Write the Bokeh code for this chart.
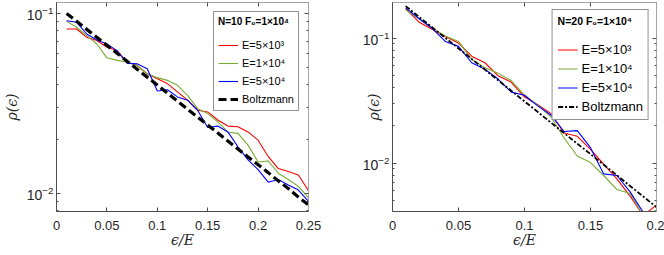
from bokeh.plotting import figure
from bokeh.layouts import row
from bokeh.models import (Range1d, FixedTicker, LogAxis, LinearAxis, Legend,
                          LegendItem, NumeralTickFormatter, CustomJSTickFormatter)
from bokeh.embed import file_html
from bokeh.resources import INLINE

# ---------------- data ----------------
eps_left = [0.01, 0.02, 0.03, 0.04, 0.05, 0.06, 0.07, 0.08, 0.09, 0.10,
            0.11, 0.12, 0.13, 0.14, 0.15, 0.16, 0.17, 0.18, 0.19, 0.20,
            0.21, 0.22, 0.23, 0.24, 0.25]
red_left = [0.0819, 0.0819, 0.0736, 0.0706, 0.0648, 0.0621, 0.0536, 0.0513, 0.0461, 0.0433,
            0.0407, 0.0366, 0.0329, 0.0289, 0.0283, 0.0255, 0.0236, 0.0234, 0.0219, 0.0197,
            0.0160, 0.0137, 0.0132, 0.0126, 0.0103]
green_left = [0.0903, 0.0837, 0.0752, 0.0676, 0.0566, 0.0548, 0.0536, 0.0513, 0.0461, 0.0439,
              0.0424, 0.0398, 0.0350, 0.0295, 0.0277, 0.0249, 0.0219, 0.0215, 0.0185, 0.0149,
              0.0151, 0.0129, 0.0119, 0.0109, 0.0094]
blue_left = [0.0910, 0.0892, 0.0768, 0.0712, 0.0676, 0.0621, 0.0528, 0.0524, 0.0492, 0.0370,
             0.0376, 0.0343, 0.0329, 0.0289, 0.0232, 0.0236, 0.0219, 0.0181, 0.0153, 0.0135,
             0.0115, 0.0119, 0.0111, 0.0104, 0.0090]
boltz_left = [0.1000, 0.0903, 0.0815, 0.0736, 0.0665, 0.0600, 0.0542, 0.0489, 0.0442, 0.0399,
              0.0360, 0.0325, 0.0293, 0.0265, 0.0239, 0.0216, 0.0195, 0.0176, 0.0159, 0.0144,
              0.0130, 0.0117, 0.0106, 0.0095, 0.0086]

eps_right = [0.01, 0.02, 0.03, 0.04, 0.05, 0.06, 0.07, 0.08, 0.09, 0.10,
             0.11, 0.12, 0.13, 0.14, 0.15, 0.16, 0.17, 0.18, 0.19, 0.20]
red_right = [0.172, 0.135, 0.118, 0.103, 0.0914, 0.0718, 0.0636, 0.0500, 0.0443, 0.0338,
             0.0294, 0.0250, 0.0174, 0.0164, 0.0129, 0.0098, 0.00749, 0.00544, 0.0038, 0.00463]
green_right = [0.169, 0.1437, 0.120, 0.1043, 0.0942, 0.0676, 0.0581, 0.0525, 0.0457, 0.0349,
               0.0291, 0.0235, 0.0159, 0.0114, 0.0101, 0.00796, 0.00614, 0.00571, 0.0038, 0.0042]
blue_right = [0.175, 0.1437, 0.120, 0.0942, 0.0860, 0.0636, 0.0564, 0.0471, 0.0370, 0.0349,
              0.0287, 0.0243, 0.0179, 0.0182, 0.0133, 0.0082, 0.00796, 0.00589, 0.00403, 0.0036]
boltz_right = [0.1805, 0.1485, 0.1222, 0.1006, 0.0827, 0.0681, 0.0560, 0.0461, 0.0379, 0.0312,
               0.0257, 0.0211, 0.0174, 0.0143, 0.0118, 0.0097, 0.0080, 0.00656, 0.00540, 0.00444]

x_ticks_left = [0, 0.05, 0.10, 0.15, 0.20, 0.25]
x_ticks_right = [0, 0.05, 0.10, 0.15, 0.20]
y_major = [0.01, 0.1]
y_minor = [0.002, 0.003, 0.004, 0.005, 0.006, 0.007, 0.008, 0.009,
           0.02, 0.03, 0.04, 0.05, 0.06, 0.07, 0.08, 0.09, 0.2, 0.3]

legend_labels = ["E=5×10³", "E=1×10⁴", "E=5×10⁴", "Boltzmann"]
titles = ["N=10 F₀=1×10⁴", "N=20 F₀=1×10⁴"]

RED, GREEN, BLUE = "#FF0000", "#77AC30", "#0000FF"
AX = "#4d4d4d"
AX2 = "#a6a6a6"
SANS = "Liberation Sans"
SERIF = "DejaVu Serif"


def make(eps, series, boltz, xr, yr, xticks, title, mb_left, mb_right, ylab_standoff,
         boltz_width, boltz_dash, leg):
    p = figure(width=332, height=255, y_axis_type="log",
               x_range=Range1d(*xr), y_range=Range1d(*yr),
               output_backend="svg", toolbar_location=None,
               min_border_left=mb_left, min_border_right=mb_right,
               min_border_top=2, min_border_bottom=44)
    p.outline_line_color = None
    p.grid.visible = False

    xa = p.xaxis[0]
    xa.ticker = FixedTicker(ticks=xticks)
    xa.formatter = NumeralTickFormatter(format="0.[00]")
    ya = p.yaxis[0]
    ya.ticker = FixedTicker(ticks=y_major, minor_ticks=y_minor)
    for ax in (xa, ya):
        ax.axis_line_color = AX
        ax.major_tick_line_color = AX
        ax.minor_tick_line_color = AX
        ax.major_tick_in = 4
        ax.major_tick_out = 0
        ax.minor_tick_in = 2
        ax.minor_tick_out = 0
        ax.major_label_text_font = SANS
        ax.major_label_text_color = "#262626"
        ax.axis_label_text_font = SERIF
        ax.axis_label_text_font_style = "italic"
        ax.axis_label_text_font_size = "14px"
        ax.axis_label_text_color = "#262626"
    xa.major_label_text_font_size = "13px"
    ya.major_label_text_font_size = "14px"
    xa.minor_tick_line_color = None
    xa.major_label_standoff = 9
    xa.axis_label_standoff = -1
    ya.major_label_standoff = 3
    ya.axis_label_standoff = ylab_standoff
    xa.axis_label = "ϵ/E"
    ya.axis_label = "ρ(ϵ)"

    top = LinearAxis(ticker=FixedTicker(ticks=xticks),
                     formatter=CustomJSTickFormatter(code="return ''"))
    right = LogAxis(ticker=FixedTicker(ticks=y_major, minor_ticks=y_minor),
                    formatter=CustomJSTickFormatter(code="return ''"))
    for ax in (top, right):
        ax.axis_line_color = AX2
        ax.major_tick_line_color = AX
        ax.minor_tick_line_color = AX
        ax.major_tick_in = 4
        ax.major_tick_out = 0
        ax.minor_tick_in = 2
        ax.minor_tick_out = 0
        ax.major_label_standoff = 0
    top.minor_tick_line_color = None
    p.add_layout(top, "above")
    p.add_layout(right, "right")

    rs = []
    for ys, c in zip(series, (RED, GREEN, BLUE)):
        rs.append(p.line(eps, ys, line_color=c, line_width=1.1))
    rs.append(p.line(eps, boltz, line_color="black", line_width=boltz_width,
                     line_dash=boltz_dash))

    lg = Legend(items=[LegendItem(label=l, renderers=[r]) for l, r in zip(legend_labels, rs)],
                location="top_right", title=title)
    lg.title_text_font = SANS
    lg.title_text_font_style = "bold"
    lg.title_text_font_size = leg["title_font"]
    lg.title_text_color = "black"
    lg.title_standoff = leg["title_standoff"]
    lg.label_text_font = SANS
    lg.label_text_font_size = leg["font"]
    lg.label_text_color = "black"
    lg.label_height = leg["row"]
    lg.glyph_height = leg["row"]
    lg.glyph_width = 20
    lg.label_standoff = 4
    lg.label_width = 10
    lg.spacing = 4
    lg.padding = leg["padding"]
    lg.margin = leg["margin"]
    lg.border_line_color = "#262626"
    lg.border_line_width = 1
    lg.background_fill_alpha = 1
    p.add_layout(lg)
    return p


p1 = make(eps_left, [red_left, green_left, blue_left], boltz_left,
          (0, 0.25), (0.0079, 0.115), x_ticks_left, titles[0], 53, 24, 4,
          3.2, "8 4",
          dict(title_font="10px", title_standoff=11, font="11px", row=14, padding=4, margin=9))
p2 = make(eps_right, [red_right, green_right, blue_right], boltz_right,
          (0, 0.2), (0.0041, 0.193), x_ticks_right, titles[1], 60, 8, -22,
          1.8, "5 2 2 2",
          dict(title_font="10.5px", title_standoff=15, font="13px", row=15, padding=5, margin=7))

layout = row(p1, p2)
open("out.html", "w").write(file_html(layout, INLINE))
